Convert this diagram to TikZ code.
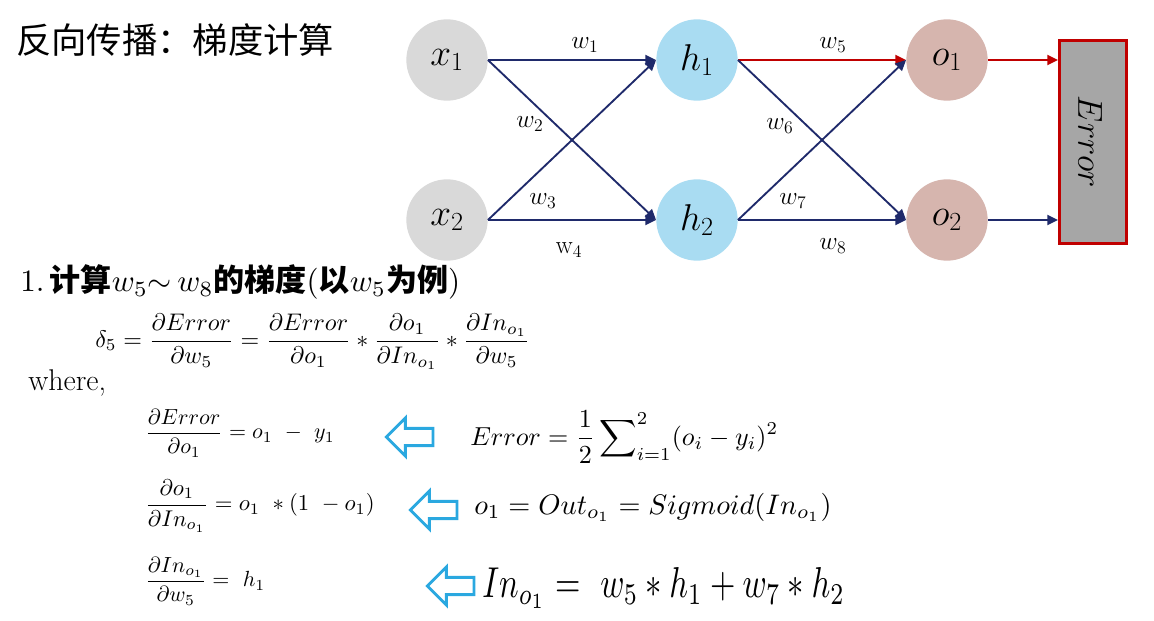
\RequirePackage{fix-cm}
\documentclass[tikz,border=0pt]{standalone}
\usepackage{fontspec}
\usepackage{amsmath}
\usepackage{graphicx}
\newfontfamily\cjk{Noto Sans CJK SC}
\usetikzlibrary{shapes.arrows,arrows.meta}
\definecolor{navy}{HTML}{1F2A6B}
\definecolor{errred}{HTML}{C00000}
\definecolor{ingray}{HTML}{D9D9D9}
\definecolor{hidblue}{HTML}{A9DCF2}
\definecolor{outrose}{HTML}{D6B5AE}
\definecolor{boxgray}{HTML}{A6A6A6}
\definecolor{hollowblue}{HTML}{2AA8E0}
\newcommand\fitw[2]{\resizebox{#1}{!}{#2}}
\tikzset{
  neuron/.style={circle,minimum size=61pt,inner sep=0pt,font=\fontsize{28}{28}\selectfont},
  conn/.style={navy,line width=1.4pt,-{Triangle[length=8pt,width=7.5pt]}},
  redconn/.style={errred,line width=1.4pt,-{Triangle[length=8pt,width=7.5pt]}},
  wlabel/.style={inner sep=0pt,font=\fontsize{19}{19}\selectfont},
  hollow/.style={single arrow,shape border rotate=180,draw=hollowblue,fill=white,line width=2.2pt,
    minimum height=35pt,inner sep=5.4pt,single arrow head extend=7.8pt,single arrow tip angle=90},
  eq/.style={anchor=west,inner sep=0pt}
}
\begin{document}
\begin{tikzpicture}[x=0.75pt,y=-0.75pt]
\useasboundingbox (0,0) rectangle (1154,621);
\fill[white] (0,0) rectangle (1154,621);

% title
\node[anchor=west,inner sep=0pt,font=\cjk\fontsize{26.5}{26.5}\selectfont] (title) at (16,40) {反向传播：梯度计算};

% neurons
\node[neuron,fill=ingray] (x1) at (447,60) {$x_1$};
\node[neuron,fill=ingray] (x2) at (447,220) {$x_2$};
\node[neuron,fill=hidblue] (h1) at (697,60) {$h_1$};
\node[neuron,fill=hidblue] (h2) at (697,220) {$h_2$};
\node[neuron,fill=outrose] (o1) at (947,60) {$o_1$};
\node[neuron,fill=outrose] (o2) at (947,220) {$o_2$};
\node[draw=errred,fill=boxgray,line width=2.6pt,minimum width=50pt,minimum height=152pt,inner sep=0pt] (err) at (1093,142)
  {\rotatebox{-90}{\fontsize{26}{26}\selectfont$Error$}\hspace*{4pt}};

% connectors
\draw[conn] (x1.east) -- (h1.west);
\draw[conn] (x1.east) -- (h2.west);
\draw[conn] (x2.east) -- (h1.west);
\draw[conn] (x2.east) -- (h2.west);
\draw[redconn] (h1.east) -- (o1.west);
\draw[conn] (h1.east) -- (o2.west);
\draw[conn] (h2.east) -- (o1.west);
\draw[conn] (h2.east) -- (o2.west);
\draw[redconn] (o1.east) -- (o1.east -| err.west);
\draw[conn] (o2.east) -- (o2.east -| err.west);

% weight labels
\node[wlabel] (w1) at (585,45) {$w_1$};
\node[wlabel] (w2) at (530,124) {$w_2$};
\node[wlabel] (w3) at (543,201) {$w_3$};
\node[wlabel] (w4) at (569,250) {$\mathrm{w}_4$};
\node[wlabel] (w5) at (833,45) {$w_5$};
\node[wlabel] (w6) at (780,126) {$w_6$};
\node[wlabel] (w7) at (793,201) {$w_7$};
\node[wlabel] (w8) at (833,246) {$w_8$};

% step heading
\node[eq] (step) at (20,282) {\fitw{330pt}{1.\,{\cjk\bfseries 计算}$w_5{\sim}\,w_8${\cjk\bfseries 的梯度}({\cjk\bfseries 以}$w_5${\cjk\bfseries 为例})}};

% delta equation
\node[eq] (delta) at (95,342) {\fitw{326pt}{$\delta_5 = \dfrac{\partial Error}{\partial w_5} = \dfrac{\partial Error}{\partial o_1} * \dfrac{\partial o_1}{\partial In_{o_1}} * \dfrac{\partial In_{o_1}}{\partial w_5}$}};

\node[eq,font=\fontsize{22.5}{22.5}\selectfont] (where) at (28,383) {where,};

% row 1
\node[eq] (r1l) at (145,433) {\fitw{142pt}{$\dfrac{\partial Error}{\partial o_1} = o_1\ -\ y_1$}};
\node[hollow] (a1) at (414,437) {};
\node[eq] (r1r) at (470,437) {\fitw{231pt}{$Error = \dfrac{1}{2}\displaystyle\sum\nolimits_{i=1}^{2}(o_i - y_i)^2$}};

% row 2
\node[eq] (r2l) at (145,506) {\fitw{172pt}{$\dfrac{\partial o_1}{\partial In_{o_1}} = o_1\ *(1\ - o_1)$}};
\node[hollow] (a2) at (438,510) {};
\node[eq] (r2r) at (474,507) {\fitw{268pt}{$o_1 = Out_{o_1} = Sigmoid(In_{o_1})$}};

% row 3
\node[eq] (r3l) at (145,581) {\fitw{90pt}{$\dfrac{\partial In_{o_1}}{\partial w_5} =\ h_1$}};
\node[hollow] (a3) at (455,586) {};
\node[eq] (r3r) at (482,588) {\resizebox{272pt}{22.5pt}{$In_{o_1} =\ w_5 * h_1 + w_7 * h_2$}};
\end{tikzpicture}
\end{document}
